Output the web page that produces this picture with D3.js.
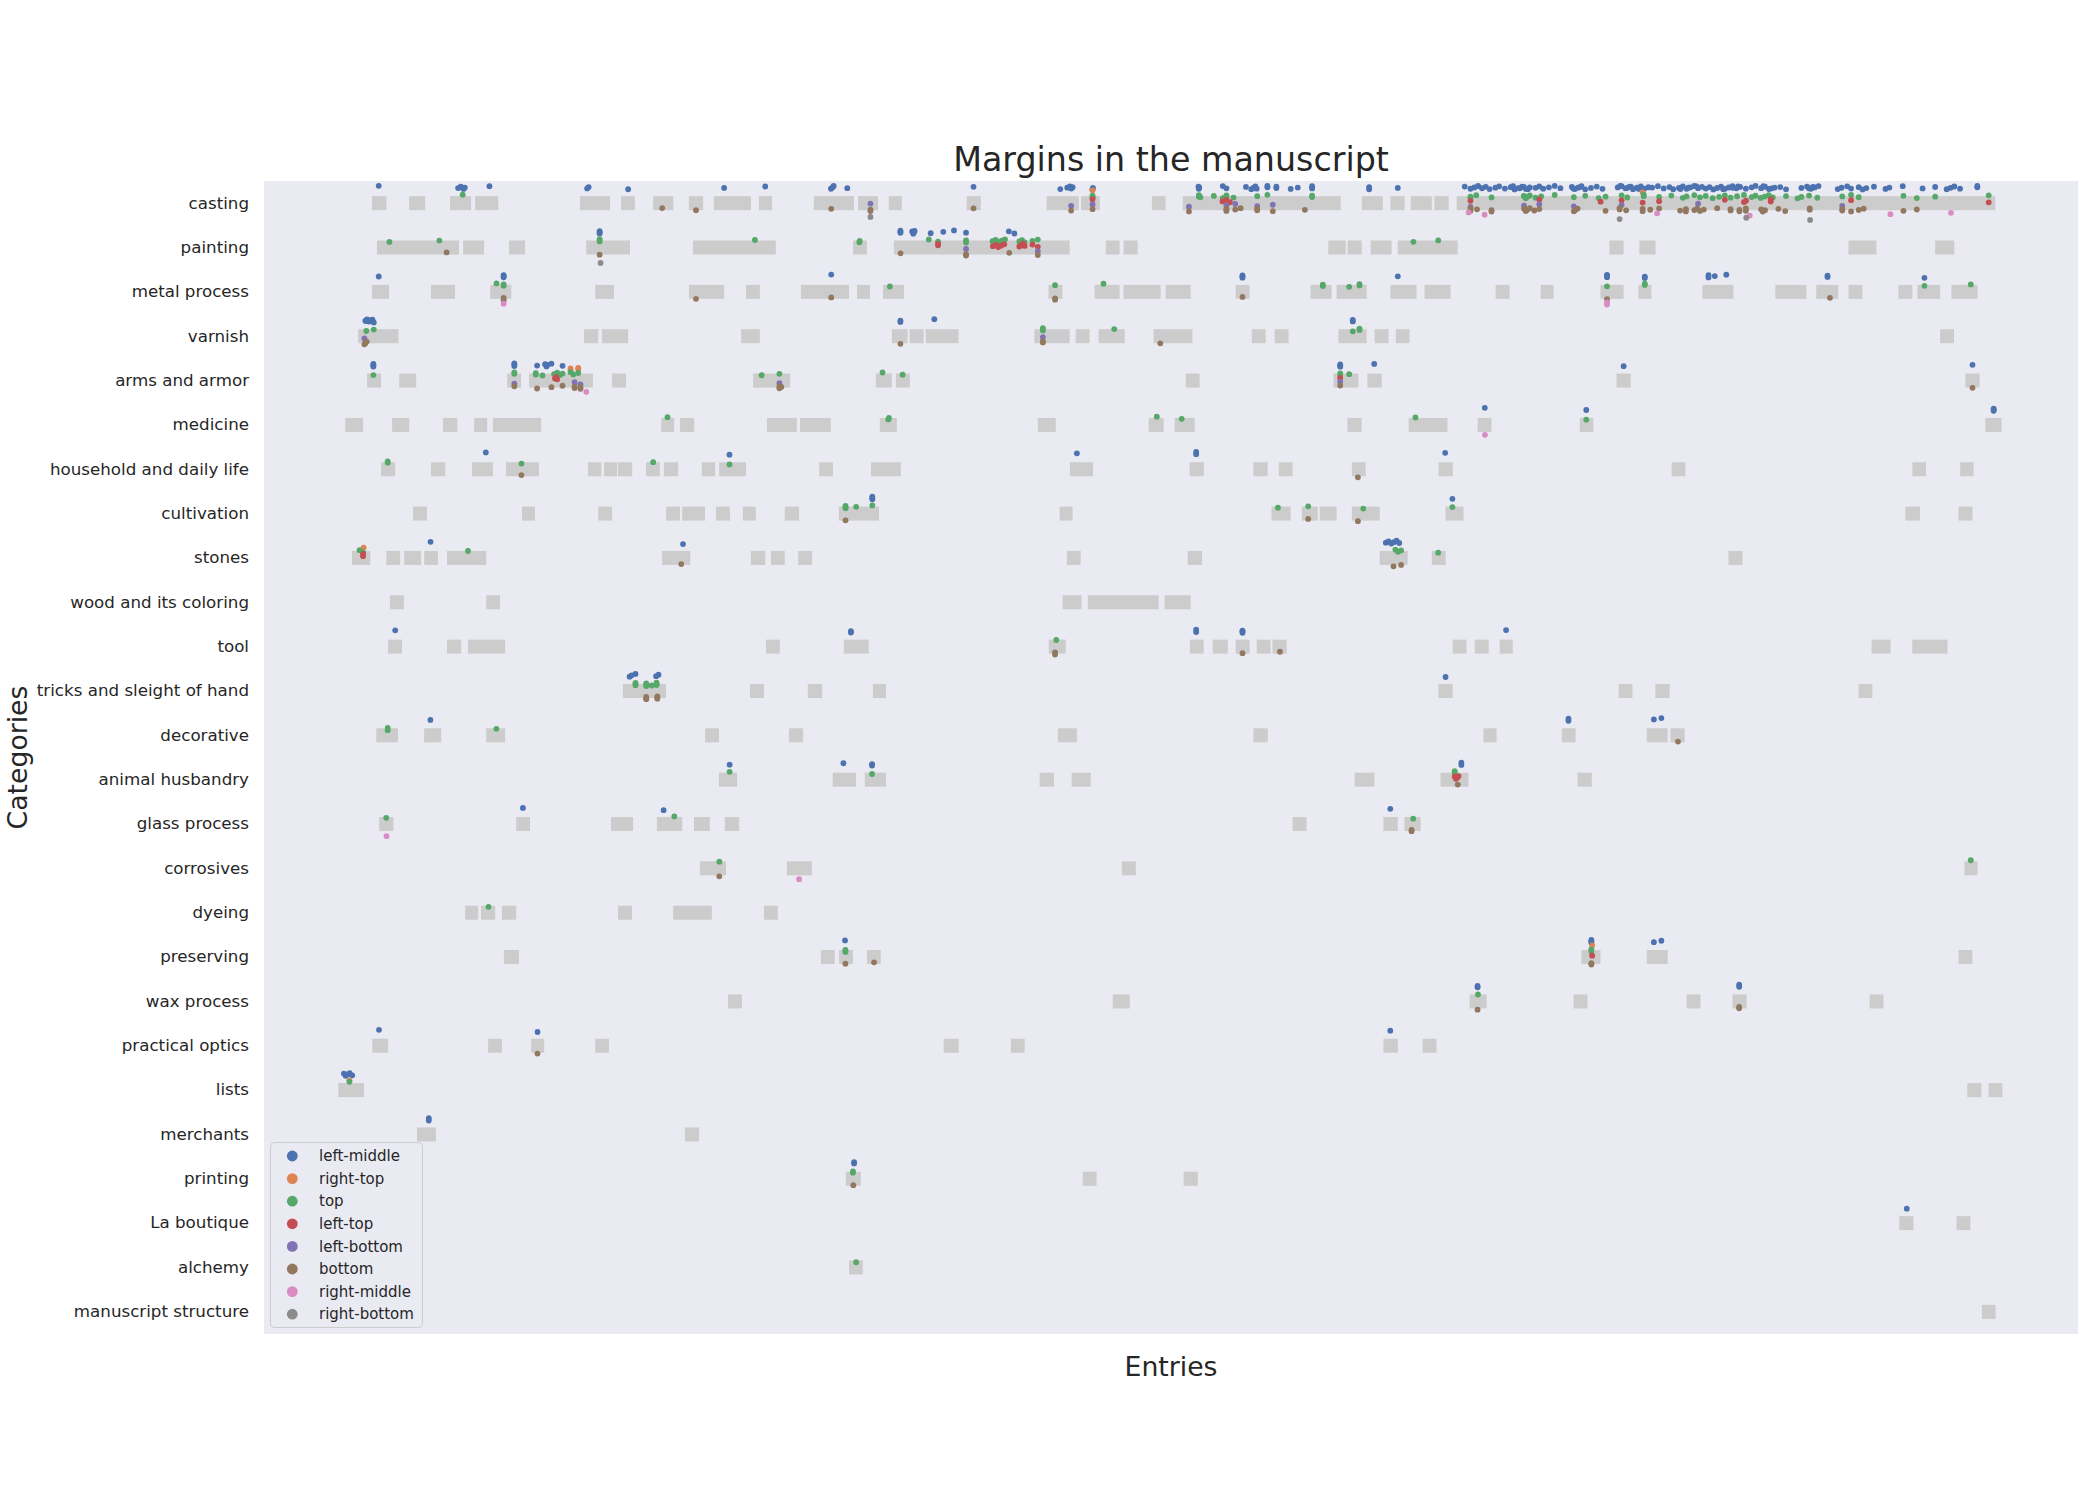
<!DOCTYPE html>
<html>
<head>
<meta charset="utf-8">
<script src="https://cdn.jsdelivr.net/npm/d3@7"></script>
<style>
  html, body { margin: 0; padding: 0; background: #ffffff; }
</style>
</head>
<body>
<script>
// ---------------- DATA ----------------
const categories = ["casting", "painting", "metal process", "varnish", "arms and armor", "medicine",
  "household and daily life", "cultivation", "stones", "wood and its coloring", "tool",
  "tricks and sleight of hand", "decorative", "animal husbandry", "glass process", "corrosives",
  "dyeing", "preserving", "wax process", "practical optics", "lists", "merchants", "printing",
  "La boutique", "alchemy", "manuscript structure"];

const positions = ["left-middle", "right-top", "top", "left-top", "left-bottom", "bottom", "right-middle", "right-bottom"];
const positionColors = ["#4C72B0", "#DD8452", "#55A868", "#C44E52", "#8172B3", "#937860", "#DA8BC3", "#8C8C8C"];

// Entry position scale (no tick labels in the original)
const entryDomain = [0, 1355];

// Grey spans of entries per category (start, end), in category order
const entrySpans = [
  [[80.7,91.4],[108.4,120.4],[139,154.7],[157.7,175],[236,258.4],[266.7,277],[290.7,305.7],[317.4,328],[336,363.7],[369.7,379.4],[410.7,440.7],[443.7,458.7],[466.7,476.4],[524.9,535.4],[584.6,608.6],[610.3,624.3],[663.2,673.4],[686.3,804.3],[820,835.7],[841.4,852],[856.6,872.3],[874.3,884.9],[890.9,1293.2]],
  [[84.4,145.7],[148.7,164.4],[183,195],[240.7,273.4],[320.4,382.3],[440,450.4],[470.5,601.8],[628.8,639.1],[642.1,652.6],[795,808],[809.4,820],[826.6,842.3],[846.9,891.7],[1005,1015.6],[1027.4,1039.4],[1183.6,1204.4],[1248.3,1262.6]],
  [[80.7,93.4],[124.7,142.7],[169,184.7],[247.4,261.4],[317.4,343.7],[360,370.4],[401,437],[443,452.7],[462.4,478],[586,596.4],[620.5,639.1],[642,669.8],[673.5,692.2],[725.8,736.2],[781.8,797.5],[801.2,823.7],[841.4,860.9],[866.9,886.3],[920,930.4],[953.7,963.3],[998.3,1015.6],[1026.7,1036.3],[1074.4,1097.6],[1128.9,1152.1],[1159.5,1175.9],[1183.6,1193.9],[1220.8,1231.3],[1235,1252],[1260.4,1279.9]],
  [[70.4,100.4],[239,249.7],[252.4,272],[356.4,370.4],[469,480.7],[482.3,492.7],[494.3,518.8],[575.4,601.8],[606.3,616.7],[623.4,642.9],[664.5,693.5],[737.8,748.2],[754.9,765.3],[802.6,823.6],[829.6,840],[845.4,855.7],[1252,1262.4]],
  [[77,87.4],[101,113.7],[181.7,192],[198,245.7],[260,270.4],[365.4,393],[457,469],[472,482.4],[688.5,698.9],[798.9,817.5],[824.2,834.9],[1010.3,1020.9],[1270.9,1281.5]],
  [[60.7,74],[95.7,108.4],[133.7,144.4],[157,166.7],[171,207],[296.7,306.4],[310.7,321.4],[375.7,398],[400.4,423.4],[460,472.7],[578,591.4],[660.8,672],[680.2,695.2],[809.3,819.9],[855,884],[906.6,916.9],[982.8,993],[1285.8,1297.9]],
  [[87.4,98],[124.7,135.4],[155.4,171],[180.7,205.4],[242,252],[254,263.7],[264.4,275],[285.4,295.7],[298.7,309.4],[327,337],[340,360],[414.7,425],[453.4,475.7],[602,619.2],[691.4,702],[739.1,749.7],[758,768.3],[812.6,822.9],[877.4,888],[1051.5,1061.7],[1231.3,1241.5],[1267,1277]],
  [[111.4,121.7],[192.7,202.4],[249.7,260],[300.4,310.7],[312.4,329.4],[337.7,348],[357.7,367.4],[389,399.7],[429.4,459.4],[594.3,604],[752.6,766.9],[775.2,787.1],[788.6,801.2],[812.6,833.4],[882.6,896],[1226,1237],[1265.7,1276.2]],
  [[65.7,79.4],[91.4,101.7],[104.7,117.4],[119.7,130],[136.7,166],[297.4,318.4],[363.7,374.4],[378.7,389],[399,409.4],[599.7,610],[690,700.6],[833.4,854.3],[872.3,882.6],[1093.9,1104.4]],
  [[94.2,104.5],[166,176.3],[596.5,610.7],[615.4,668.3],[672.7,692.2]],
  [[92.7,103.1],[136.7,147.3],[152.4,180.1],[375,385.3],[433.1,451.7],[586.2,598.9],[691.6,701.9],[708.7,719.9],[725.8,736.2],[741.5,751.8],[753.3,763.9],[887.9,898.2],[904.4,914.8],[923,932.8],[1200.8,1215],[1231.2,1257.5]],
  [[268.1,300.3],[363.1,373.5],[406.2,416.9],[454.8,464.6],[877.3,887.9],[1011.9,1022.2],[1039.3,1050],[1191.1,1201.4]],
  [[83.9,100.1],[119.6,132.3],[166,180.1],[329.5,339.8],[392.1,402.7],[593,607.2],[739.1,749.8],[910.9,920.7],[969.4,979.7],[1032.9,1048.5],[1050.6,1061.2]],
  [[339.8,353.4],[424.8,442.2],[448.8,464.6],[579.4,590.1],[603.3,617.5],[814.7,829.4],[878.8,899.7],[981.2,991.8]],
  [[86,96.6],[188.4,198.7],[259.2,275.7],[293.5,312.4],[321.2,333],[344.2,354.9],[768.4,778.7],[836.2,846.9],[851.9,864]],
  [[325.6,345.1],[390.6,409.2],[640.8,651.2],[1270.2,1280]],
  [[150.3,160],[162.1,172.7],[177.7,188.4],[264.5,274.9],[305.6,334.5],[373.5,383.8]],
  [[179.2,190.4],[416,426.3],[429.6,439.9],[450.4,460.7],[984.1,998.3],[1032.9,1048.5],[1265.8,1276.1]],
  [[346.6,357],[634,646.7],[900.6,913.3],[978.2,988.6],[1062.7,1073],[1096.9,1107.5],[1199.4,1209.7]],
  [[80.9,92.7],[167.4,177.7],[199.6,209.3],[247.4,257.7],[507.7,518.9],[557.9,568.2],[836.2,846.9],[865.5,875.8]],
  [[55.5,74.7],[1272.3,1282.9],[1288.2,1298.5]],
  [[114.3,128.4],[314.4,325]],
  [[434.6,445.8],[611.6,621.9],[686.9,697.5]],
  [[1221.5,1232.1],[1264.3,1274.6]],
  [[437,447.3]],
  [[1283.2,1293.5]]
];

// Margins: [category index, entry positions]
const leftMiddleMargins = [
  [0, [85.7,145,147,149,150,168.4,241.4,242.5,272,343.7,374.4,423.5,424.7,425.5,435.7,530,594.8,600,602,603,604,618.8,619.2,698,698.3,698.6,716.2,718.9,733.5,737.5,739,740.5,741.5,749.5,749.5,756.2,756.2,766.9,772.2,782.9,782.9,825.5,825.5,846.9,
       896.9,901.2,904.1,906.9,909.8,912.6,915.5,919.8,922.6,926.9,931.2,934.1,936.9,939.8,942.6,945.5,933,938,941,944,949.8,952.6,955.5,959.8,964.1,968.4,976.9,979.2,981.5,984.1,978,983,986.9,991.2,995.5,999.8,
       1011.2,1014.1,1016.9,1019.8,1022.6,1025.5,1028.4,1031.2,1034.1,1013,1018,1021,1027,1036.9,1041.2,1045.5,1049.8,1052.6,1056.9,1059.8,1062.6,1065.5,1068.4,1071.2,1074.1,1058,1064,1070,
       1076.9,1079.8,1082.6,1085.5,1088.4,1091.2,1094.1,1096.9,1099.8,1102.6,1090,1097,1101,1106.9,1111.2,1114.1,1118.3,1121.2,1124.1,1128.4,1120,1126,1132.6,1136.9,1148.4,1152.6,1155.5,1158.3,1161.2,1154,1157,
       1175.5,1178.4,1182.6,1185.5,1191.2,1194.1,1196.9,1202.6,1211.2,1214.1,1224.1,1238.9,1248.3,1256.9,1259.8,1262.6,1266.9,1279.8,1279.8]],
  [1, [250.7,250.7,250.7,475.4,475.4,475.4,484.2,485,485.5,486,498,507.4,515.4,524.4,556.4,560.5]],
  [2, [85.7,179,179,179,423.7,730.9,730.9,730.9,846.9,1003.2,1003.2,1003.2,1031.4,1031.4,1079,1079,1083.7,1092.3,1167.9,1167.9,1240.3]],
  [3, [75.7,77,78.5,80,82,76.5,81,475.4,475.4,500.7,813.3,813.3]],
  [4, [81.7,81.7,81.7,187,187,187,204,210,211,211.7,214.7,223,803.9,803.9,803.9,829.3,1015.6,1276.2]],
  [5, [911.9,987.7,1292,1292,1292]],
  [6, [165.7,347.7,607.2,696.3,696.3,882.3]],
  [7, [454.4,454.4,454.4,887.7]],
  [8, [124.4,313,838,840,842,844,846,848]],
  [10, [98,438.4,438.4,696.3,696.3,730.9,730.9,730.9,927.8]],
  [11, [273.1,274.6,277.5,292.9,294.7,882.6]],
  [12, [124.3,974.4,974.4,1038.2,1043.8]],
  [13, [347.8,432.8,454.2,454.2,894.4,894.4]],
  [14, [193.4,298.5,841.3]],
  [17, [434,991.5,991.5,991.5,1038.2,1043.8]],
  [18, [906.5,906.5,1101.9,1101.9]],
  [19, [85.9,204.3,841.3]],
  [20, [59.7,61,62.5,64,65.9]],
  [21, [123.1,123.1]],
  [22, [440.8,440.8]],
  [23, [1227.1]]
];
const rightTopMargins = [
  [0, [618.9,1029.8]],
  [4, [229,229,234.7,234.7]],
  [8, [74.4]],
  [17, [992.1]],
  [20, [63.8]]
];
const topMargins = [
  [0, [148.4,618.9,618.9,618.9,698.3,698.3,699.4,709.5,716.2,718.9,718.9,724.2,741.9,749.5,782.9,782.9,901.2,901.2,905.5,916.9,941,942.5,943.5,945.5,949.8,954,964.1,978.4,986.9,996.9,1002.1,1014.1,1018.3,1030.6,1030.6,1042.1,1051.2,1059.8,1062.6,1068.4,1072.6,1076.9,1082.1,1086.9,1091.2,1095.5,1100.3,1105.5,1111.2,1114.1,1118,1121,1124,1127,1136.9,1145.5,1148.4,1154.1,1160.3,1178.9,1185.5,1191.2,1224.6,1234.6,1248.3,1288.3]],
  [1, [93.7,131,250.7,250.7,366.7,444.7,445,496.6,503.5,524.4,524.4,544.2,546.5,548.5,551,553.5,564.2,566.2,568.2,574,578,858.6,877.1]],
  [2, [173.7,179,179,467.5,590.9,627.1,790.9,790.9,810.6,818.3,818.3,1003.2,1031.4,1031.4,1240.3,1274.9]],
  [3, [76.4,82,581.8,581.8,635.1,813.3,818.3,818.3]],
  [4, [81.7,187,187,203,203,208,216.7,219,221,223,229,231,234.7,371.7,385,462,477,803.9,803.9,810.6]],
  [5, [301.4,466.3,466.8,666.9,685.5,860.1,987.7]],
  [6, [92.4,92.4,192.3,290.7,347.7]],
  [7, [434.4,434.4,434.4,442.3,454.4,757.4,780,821.1,887.7]],
  [8, [71.4,74,152.4,845.1,847,849.4,877.1]],
  [10, [591.8]],
  [11, [277.5,277.5,277.5,285.5,285.5,285.5,289.6,293.2,293.2,293.2]],
  [12, [92.4,92.4,173.6]],
  [13, [347.8,454.2,889.4,889.4]],
  [14, [91.3,306.5,858.4]],
  [15, [340.1,1274.9]],
  [16, [167.7]],
  [17, [434.3,434.3,434.3,991.5,991.5]],
  [18, [906.8]],
  [20, [63.8]],
  [22, [439.9,439.9]],
  [24, [442.3]]
];
const leftTopMargins = [
  [0, [618.9,716,719,721.5,901.2,952.6,998.4,1014.1,1029.8,1042.1,1091.2,1105.5,1107,1125.5,1125.5,1185.5,1288.3]],
  [1, [503.5,503.5,544.5,546.5,548.5,550.5,553,564.2,566,567,568.2,574,578]],
  [4, [217.4,218.2,219,803.9]],
  [8, [74,74]],
  [13, [889.4,890.4,891.4,892.3]],
  [17, [992.1]]
];
const leftBottomMargins = [
  [0, [453,602.9,618.9,690.9,718.9,725.5,741.9,753.5,901.2,941.2,952.6,978.4,1014.1,1071.2,1178.9]],
  [1, [524.4,578]],
  [3, [75,581.8]],
  [4, [187,232,236.4,385,803.9]]
];
const bottomMargins = [
  [0, [297.4,322.7,423.7,453,453,530,602.9,618.9,690.9,718.9,718.9,718.9,725.5,729.5,741.9,741.9,753.5,777.5,901.2,901.2,906.1,916.9,916.9,941.2,942.5,943.5,945.5,948.9,952.6,978.4,979.5,981.2,1002.1,1012.6,1012.6,1017.5,1029.8,1029.8,1035.5,1042.1,1057.8,1062.1,1062.1,1068.4,1070.5,1072.6,1075.5,1085.5,1095.5,1095.5,1102.1,1102.1,1106.9,1106.9,1118.3,1119.5,1121.2,1131.2,1136.3,1154.6,1154.6,1178.9,1178.9,1185.5,1191.2,1194.9,1224.6,1234.6]],
  [1, [136.4,250.7,475.5,524.4,524.4,556.7,578]],
  [2, [179,179,322.7,423.7,590.9,590.9,730.9,1003.2,1169.7]],
  [3, [75,75.8,76.7,475.4,581.8,581.8,669.5]],
  [4, [187,204,214.7,223,232,232,236.4,236.4,385,385,386.4,803.9,1276.2]],
  [6, [192.3,817.1]],
  [7, [434.4,780,817.1]],
  [8, [311.7,843.7,849.4]],
  [10, [590.9,590.9,730.9,758.9]],
  [11, [285.5,285.5,285.5,293.8,293.8,293.8]],
  [12, [1056.2]],
  [13, [891.7]],
  [14, [857.2,857.2]],
  [15, [340.1]],
  [17, [434.3,455.7,991.5,991.5]],
  [18, [906.5,1101.9,1101.9]],
  [19, [204.3]],
  [22, [440.2]]
];
const rightMiddleMargins = [
  [0, [899.8,911.8,1040.6,1109.8,1214.9,1260.1]],
  [2, [179,1003.2,1003.2]],
  [4, [240.7]],
  [5, [912]],
  [14, [91.5]],
  [15, [399.7]]
];
const rightBottomMargins = [
  [0, [453,1012.6,1107.2,1154.9]],
  [1, [251.4]]
];

const marginSeries = [leftMiddleMargins, rightTopMargins, topMargins, leftTopMargins,
  leftBottomMargins, bottomMargins, rightMiddleMargins, rightBottomMargins];

// ---------------- DRAWING ----------------
const W = 2100, H = 1500;
const M = { left: 264, right: 2078, top: 181, bottom: 1334 };
const FONT = "'DejaVu Sans', 'Liberation Sans', sans-serif";
const TXT = "#262626";

const svg = d3.select("body").append("svg")
  .attr("width", W).attr("height", H)
  .style("font-family", FONT);

svg.append("rect").attr("width", W).attr("height", H).attr("fill", "#ffffff");

const x = d3.scaleLinear().domain(entryDomain).range([M.left, M.right]);
const y = d3.scaleBand().domain(categories).range([M.top, M.bottom]).padding(0);
const bw = y.bandwidth();

svg.append("rect")
  .attr("x", M.left).attr("y", M.top)
  .attr("width", M.right - M.left).attr("height", M.bottom - M.top)
  .attr("fill", "#EAEAF2");

// grey entry spans
const spanData = [];
entrySpans.forEach((list, ci) => list.forEach(([a, b]) => spanData.push({ cat: categories[ci], a, b })));
const boxH = bw * 0.316;
svg.append("g").selectAll("rect").data(spanData).join("rect")
  .attr("x", d => x(d.a))
  .attr("width", d => x(d.b) - x(d.a))
  .attr("y", d => y(d.cat) + bw / 2 - boxH / 2)
  .attr("height", boxH)
  .attr("fill", "#CCCCCC");

// margin points (dodged by position, small deterministic jitter)
const nPos = positions.length;
const slot = bw * 0.8 / nPos;
const ptsG = svg.append("g");
marginSeries.forEach((series, pi) => {
  const pts = [];
  let k = 0;
  series.forEach(([ci, xs]) => xs.forEach(v => { pts.push({ cat: categories[ci], v, k: k++ }); }));
  ptsG.append("g").selectAll("circle").data(pts).join("circle")
    .attr("cx", d => x(d.v))
    .attr("cy", d => y(d.cat) + bw / 2 + (pi - (nPos - 1) / 2) * slot + (((d.k * 0.6180339887) % 1) - 0.5) * 3.6)
    .attr("r", 2.9)
    .attr("fill", positionColors[pi]);
});

// y axis
const yAxisG = svg.append("g")
  .attr("transform", `translate(${M.left},0)`)
  .call(d3.axisLeft(y).tickSize(0).tickPadding(15));
yAxisG.select(".domain").remove();
yAxisG.selectAll("text")
  .attr("font-size", "16.7px")
  .attr("font-family", FONT)
  .attr("fill", TXT);

// title
svg.append("text")
  .attr("x", (M.left + M.right) / 2).attr("y", 171)
  .attr("text-anchor", "middle")
  .attr("font-size", "33.3px")
  .attr("fill", TXT)
  .text("Margins in the manuscript");

// axis labels
svg.append("text")
  .attr("x", (M.left + M.right) / 2).attr("y", 1376)
  .attr("text-anchor", "middle")
  .attr("font-size", "26.7px")
  .attr("fill", TXT)
  .text("Entries");

svg.append("text")
  .attr("transform", `translate(27,${(M.top + M.bottom) / 2}) rotate(-90)`)
  .attr("text-anchor", "middle")
  .attr("font-size", "26.7px")
  .attr("fill", TXT)
  .text("Categories");

// legend
const lg = svg.append("g");
lg.append("rect")
  .attr("x", 270.5).attr("y", 1142.5)
  .attr("width", 152).attr("height", 185)
  .attr("rx", 4).attr("ry", 4)
  .attr("fill", "#EAEAF2").attr("fill-opacity", 0.8)
  .attr("stroke", "#CCCCCC").attr("stroke-width", 1);
const lgItems = lg.selectAll("g.item").data(positions).join("g")
  .attr("class", "item")
  .attr("transform", (d, i) => `translate(0,${1156 + i * 22.6})`);
lgItems.append("circle")
  .attr("cx", 292.3).attr("cy", 0).attr("r", 5.4)
  .attr("fill", (d, i) => positionColors[i]);
lgItems.append("text")
  .attr("x", 319).attr("y", 0)
  .attr("dy", "0.35em")
  .attr("font-size", "15px")
  .attr("fill", TXT)
  .text(d => d);
</script>
</body>
</html>
